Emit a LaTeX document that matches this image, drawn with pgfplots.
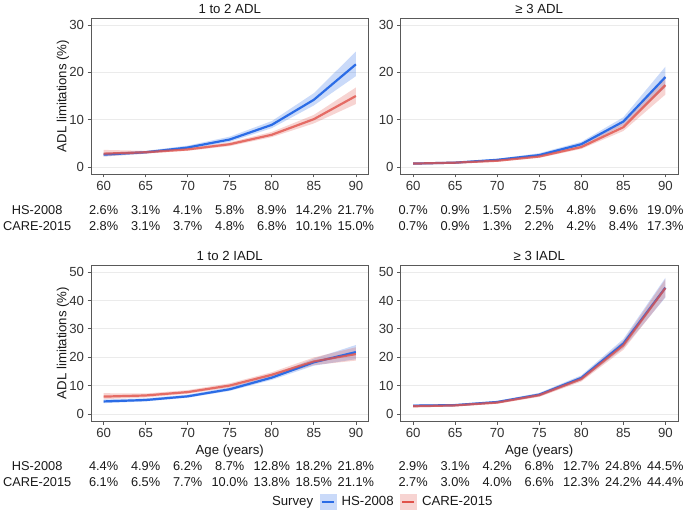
\documentclass[border=0pt]{standalone}
\usepackage{fontspec}
\setmainfont{Liberation Sans}
\usepackage{pgfplots}
\pgfplotsset{compat=1.18}
\usepackage{pgfplotstable}
\usepgfplotslibrary{fillbetween}
\definecolor{blueC}{HTML}{2B6CE6}
\definecolor{redC}{HTML}{E0524A}
\newcommand\fs{\fontsize{13.2}{15}\selectfont}
\newcommand\ft{\fontsize{12.8}{15}\selectfont}
\tikzset{tbl/.style={font=\ft, text=black!90, anchor=center, inner sep=0pt}}
% table row: y, then 7 values
\newcommand\trow[8]{%
\node[tbl] at (axis cs:60,#1){#2};\node[tbl] at (axis cs:65,#1){#3};%
\node[tbl] at (axis cs:70,#1){#4};\node[tbl] at (axis cs:75,#1){#5};%
\node[tbl] at (axis cs:80,#1){#6};\node[tbl] at (axis cs:85,#1){#7};%
\node[tbl] at (axis cs:90,#1){#8};}

\pgfplotstableread{
age hs hslo hshi ca calo cahi
60 2.6 2.2 3.0 2.8 2.2 3.6
65 3.1 2.8 3.4 3.1 2.8 3.4
70 4.1 3.8 4.5 3.7 3.4 4.0
75 5.8 5.3 6.4 4.8 4.4 5.2
80 8.9 8.2 9.7 6.8 6.3 7.4
85 14.2 13.0 15.6 10.1 9.2 11.0
90 21.7 19.2 24.4 15.0 13.3 16.8
}\tA
\pgfplotstableread{
age hs hslo hshi ca calo cahi
60 0.7 0.5 0.9 0.7 0.5 0.9
65 0.9 0.7 1.1 0.9 0.7 1.1
70 1.5 1.3 1.7 1.3 1.1 1.5
75 2.5 2.2 2.9 2.2 1.9 2.5
80 4.8 4.3 5.3 4.2 3.8 4.7
85 9.6 8.8 10.5 8.4 7.6 9.3
90 19.0 16.8 21.2 17.3 15.3 19.3
}\tB
\pgfplotstableread{
age hs hslo hshi ca calo cahi
60 4.4 3.8 5.1 6.1 5.2 7.3
65 4.9 4.4 5.5 6.5 5.8 7.2
70 6.2 5.7 6.8 7.7 7.1 8.4
75 8.7 8.1 9.4 10.0 9.3 10.8
80 12.8 12.0 13.6 13.8 13.0 14.7
85 18.2 17.0 19.5 18.5 17.2 19.9
90 21.8 19.3 24.3 21.1 18.8 23.5
}\tC
\pgfplotstableread{
age hs hslo hshi ca calo cahi
60 2.9 2.5 3.4 2.7 2.3 3.2
65 3.1 2.7 3.5 3.0 2.6 3.4
70 4.2 3.8 4.6 4.0 3.6 4.4
75 6.8 6.2 7.4 6.6 6.0 7.2
80 12.7 11.8 13.6 12.3 11.4 13.2
85 24.8 23.2 26.4 24.2 22.6 25.8
90 44.5 41.0 48.0 44.4 41.3 47.5
}\tD

\newcommand\series[1]{%
\addplot[draw=none, forget plot, name path=hl] table[x=age,y=hslo]{#1};
\addplot[draw=none, forget plot, name path=hh] table[x=age,y=hshi]{#1};
\addplot[fill=blueC, fill opacity=0.25, draw=none, forget plot] fill between[of=hl and hh];
\addplot[draw=none, forget plot, name path=cl] table[x=age,y=calo]{#1};
\addplot[draw=none, forget plot, name path=ch] table[x=age,y=cahi]{#1};
\addplot[fill=redC, fill opacity=0.25, draw=none, forget plot] fill between[of=cl and ch];
\addplot[blueC, line width=2.2pt, forget plot] table[x=age,y=hs]{#1};
\addplot[redC, line width=2.2pt, opacity=0.8, forget plot] table[x=age,y=ca]{#1};
}

\pgfplotsset{
  panel/.style={
    scale only axis, width=277.5pt, height=156pt,
    xmin=58.5, xmax=91.5, xtick={60,65,...,90},
    axis line style={black!65, line width=0.7pt},
    tick style={black!65, line width=0.7pt},
    tick align=outside, major tick length=3.5pt,
    xtick pos=left, ytick pos=left,
    ymajorgrids, grid style={black!8, line width=0.7pt},
    /pgf/number format/assume math mode=true,
    tick label style={font=\fs, text=black!80},
    title style={font=\fs, text=black!90, at={(0.5,1)}, anchor=south, yshift=-5.5pt},
    label style={font=\fs, text=black!90},
    ylabel style={at={(axis description cs:-0.1007,0.5)}, anchor=center},
    xlabel style={at={(axis description cs:0.5,-0.19)}, anchor=center},
    clip=false,
  },
  top/.style={panel, ymin=-1.5, ymax=31.5, ytick={0,10,20,30}},
  bot/.style={panel, ymin=-2.5, ymax=52.5, ytick={0,10,...,50}},
}

\begin{document}
\begin{tikzpicture}
\begin{axis}[top, at={(91pt,338pt)}, anchor=south west, title={1 to 2 ADL}, ylabel={ADL limitations (\%)}]
\series{\tA}
\node[tbl] at (axis cs:52.1,-9.12){HS-2008};
\node[tbl] at (axis cs:52.1,-12.5){CARE-2015};
\trow{-9.12}{2.6\%}{3.1\%}{4.1\%}{5.8\%}{8.9\%}{14.2\%}{21.7\%}
\trow{-12.5}{2.8\%}{3.1\%}{3.7\%}{4.8\%}{6.8\%}{10.1\%}{15.0\%}
\end{axis}
\begin{axis}[top, at={(400.5pt,338pt)}, anchor=south west, title={≥ 3 ADL}]
\series{\tB}
\trow{-9.12}{0.7\%}{0.9\%}{1.5\%}{2.5\%}{4.8\%}{9.6\%}{19.0\%}
\trow{-12.5}{0.7\%}{0.9\%}{1.3\%}{2.2\%}{4.2\%}{8.4\%}{17.3\%}
\end{axis}
\begin{axis}[bot, at={(91pt,91pt)}, anchor=south west, title={1 to 2 IADL}, ylabel={ADL limitations (\%)}, xlabel={Age (years)},
  legend style={at={(axis description cs:0.632,-0.519)}, anchor=west, draw=none, fill=none, font=\fs, text=black!90,
    legend columns=-1, inner sep=0pt, nodes={inner sep=0pt},
    /tikz/every even column/.append style={column sep=6.5pt},
    /tikz/every odd column/.append style={column sep=5.5pt}},
  legend cell align=left]
\series{\tC}
\node[tbl] at (axis cs:52.1,-18.37){HS-2008};
\node[tbl] at (axis cs:52.1,-24.0){CARE-2015};
\trow{-18.37}{4.4\%}{4.9\%}{6.2\%}{8.7\%}{12.8\%}{18.2\%}{21.8\%}
\trow{-24.0}{6.1\%}{6.5\%}{7.7\%}{10.0\%}{13.8\%}{18.5\%}{21.1\%}
\addlegendimage{empty legend}
\addlegendentry{Survey}
\addlegendimage{legend image code/.code={\fill[blueC!25] (0pt,-7.5pt) rectangle (16pt,7.5pt); \draw[blueC, line width=2.2pt] (2pt,0pt)--(14pt,0pt);}}
\addlegendentry{HS-2008}
\addlegendimage{legend image code/.code={\fill[redC!25] (0pt,-7.5pt) rectangle (16pt,7.5pt); \draw[redC, line width=2.2pt] (2pt,0pt)--(14pt,0pt);}}
\addlegendentry{CARE-2015}
\end{axis}
\begin{axis}[bot, at={(400.5pt,91pt)}, anchor=south west, title={≥ 3 IADL}, xlabel={Age (years)}]
\series{\tD}
\trow{-18.37}{2.9\%}{3.1\%}{4.2\%}{6.8\%}{12.7\%}{24.8\%}{44.5\%}
\trow{-24.0}{2.7\%}{3.0\%}{4.0\%}{6.6\%}{12.3\%}{24.2\%}{44.4\%}
\end{axis}
\pgfresetboundingbox
\path[use as bounding box] (0pt,0pt) rectangle (685pt,512pt);
\end{tikzpicture}
\end{document}
